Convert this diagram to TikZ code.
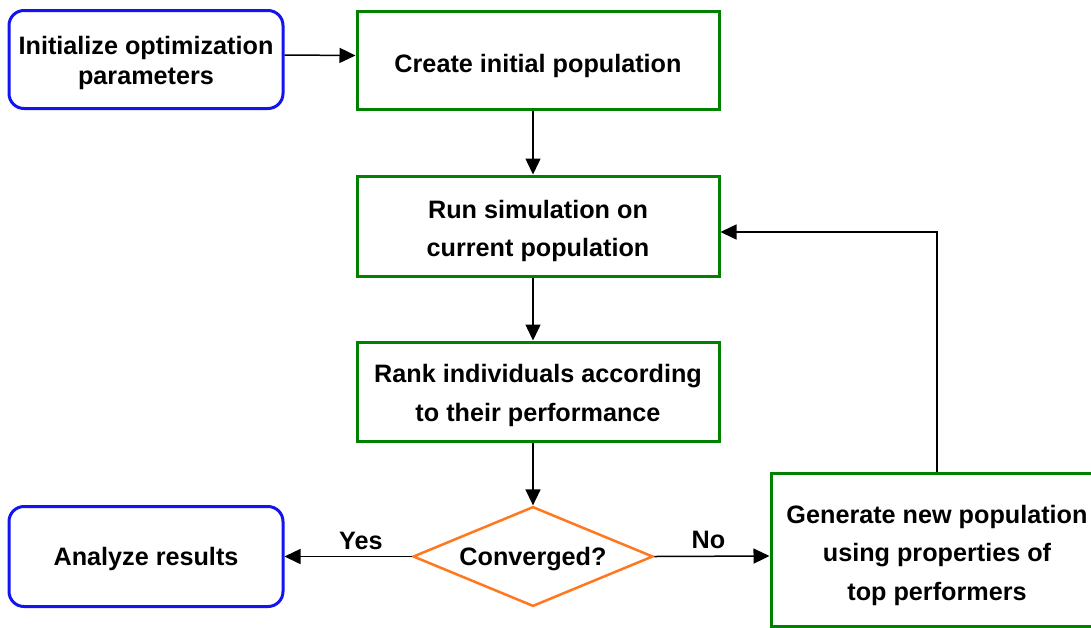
\documentclass[tikz,border=0pt]{standalone}
\usepackage{fontspec}
\setmainfont{Liberation Sans}
\usetikzlibrary{arrows.meta,shapes.geometric}
\definecolor{boxgreen}{RGB}{0,130,0}
\definecolor{boxblue}{RGB}{20,20,240}
\definecolor{decorange}{RGB}{255,120,30}
% centred lines of text, lowered by #1 while keeping the box size
\newcommand{\ntext}[2]{\raisebox{-#1}[\height][\depth]{\begin{tabular}{@{}c@{}}#2\end{tabular}}}
\tikzset{
  every node/.style={font=\fontsize{25.2}{38.5}\selectfont\bfseries, align=center, inner sep=0pt},
  termbox/.style={draw=boxblue, line width=3pt, rounded corners=15pt, fill=white},
  stepbox/.style={draw=boxgreen, line width=3pt, fill=white},
  decision/.style={diamond, draw=decorange, line width=2.5pt, fill=white, aspect=2.4},
  flow/.style={line width=1.5pt, -{Triangle[length=16pt,width=15pt]}},
  lbl/.style={font=\fontsize{25.2}{30}\selectfont\bfseries, inner sep=0pt, anchor=base}
}
\begin{document}
\begin{tikzpicture}[x=1pt, y=-1pt]
\useasboundingbox (0,0) rectangle (1091,627);

\node[termbox, minimum width=274pt, minimum height=98pt] (init) at (146,59.5)
  {\fontsize{25.2}{30}\selectfont\ntext{4pt}{Initialize optimization\\parameters}};
\node[stepbox, minimum width=362pt, minimum height=98pt] (create) at (538,60)
  {\ntext{5pt}{Create initial population}};
\node[stepbox, minimum width=362pt, minimum height=100pt] (run) at (538,226)
  {\ntext{4pt}{Run simulation on\\current population}};
\node[stepbox, minimum width=362pt, minimum height=99pt] (rank) at (538,391.5)
  {\ntext{3pt}{Rank individuals according\\to their performance}};
\node[decision, minimum width=240pt, minimum height=99pt] (conv) at (533,556.5)
  {\ntext{1pt}{Converged?}};
\node[termbox, minimum width=274pt, minimum height=100pt] (analyze) at (146,556.5)
  {\ntext{1.5pt}{Analyze results}};
\node[stepbox, minimum width=332pt, minimum height=153pt] (gen) at (937,549.5)
  {\ntext{4.5pt}{Generate new population\\using properties of\\top performers}};

\draw[flow] ([yshift=4.5pt]init.east) -- ([yshift=4.5pt]create.west);
\draw[flow] ([xshift=-5pt]create.south) -- ([xshift=-5pt]run.north);
\draw[flow] ([xshift=-5pt]run.south) -- ([xshift=-5pt]rank.north);
\draw[flow] ([xshift=-5pt]rank.south) -- (conv.north);
\draw[flow] (conv.west) -- node[lbl, pos=0.4, yshift=7.5pt] {Yes} (analyze.east);
\draw[flow] (conv.east) -- node[lbl, pos=0.47, yshift=7.5pt] {No} ([yshift=-6.5pt]gen.west);
\draw[flow] (gen.north) |- ([yshift=-6pt]run.east);
\end{tikzpicture}
\end{document}
